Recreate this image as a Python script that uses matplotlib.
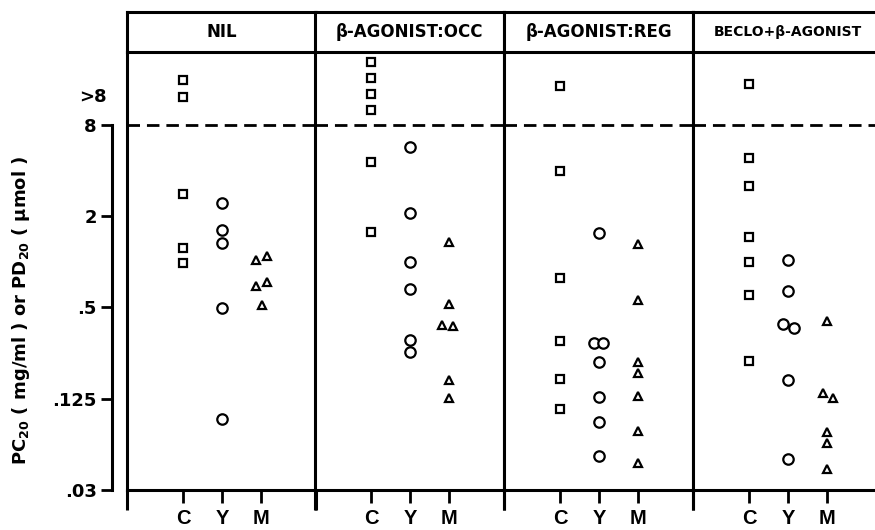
#!/usr/bin/env python3
"""PC20 / PD20 by treatment group and subject group (C, Y, M)."""

import matplotlib

matplotlib.use("Agg")
import matplotlib.pyplot as plt
from matplotlib.ticker import FixedLocator, NullLocator

W, H = 875, 530

PANELS = ["NIL", "β-AGONIST:OCC", "β-AGONIST:REG", "BECLO+β-AGONIST"]
GROUPS = ["C", "Y", "M"]
Y_TICKS = [1 / 32, 1 / 8, 0.5, 2, 8]
Y_LABELS = [".03", ".125", ".5", "2", "8"]

# readings; values above 8 sit in the ">8" band
NIL_C = [15.8, 12.2, 2.81, 1.23, 0.98]
NIL_Y = [2.44, 1.62, 1.34, 0.495, 0.0915]
NIL_M = [1.03, 1.09, 0.74, 0.69, 0.52]

OCC_C = [20.9, 16.4, 12.75, 10.05, 4.54, 1.58]
OCC_Y = [5.75, 2.09, 0.996, 0.66, 0.306, 0.256]
OCC_M = [1.36, 0.527, 0.384, 0.38, 0.167, 0.127]

REG_C = [14.5, 3.98, 0.787, 0.302, 0.169, 0.107]
REG_Y = [1.55, 0.291, 0.291, 0.22, 0.129, 0.0884, 0.052]
REG_M = [1.31, 0.562, 0.22, 0.184, 0.131, 0.077, 0.0474]

BEC_C = [14.8, 4.87, 3.18, 1.45, 0.996, 0.606, 0.222]
BEC_Y = [1.03, 0.643, 0.39, 0.365, 0.167, 0.050]
BEC_M = [0.41, 0.136, 0.126, 0.075, 0.0637, 0.043]

DATA = [
    [NIL_C, NIL_Y, NIL_M],
    [OCC_C, OCC_Y, OCC_M],
    [REG_C, REG_Y, REG_M],
    [BEC_C, BEC_Y, BEC_M],
]

# side-by-side offsets (px) for overlapping points
JITTER = {
    (0, 2): [-5, 6, 6, -5, 1],
    (1, 2): [0, 0, -7, 4, 0, 0],
    (2, 1): [0, -5, 4, 0, 0, 0, 0],
    (3, 1): [0, 0, -5, 6, 0, 0],
    (3, 2): [0, -4, 6, 0, 0, 0],
}

GROUP_X = [56, 95, 134]
PANEL_W = 189
PANEL_LEFT = [127, 315, 504, 693]
MARKERS = [("s", 5.5), ("o", 7.5), ("^", 6)]

BOLD = dict(family="DejaVu Sans", fontweight="bold")


def frac(x0, y0, w, h):
    return [x0 / W, 1 - (y0 + h) / H, w / W, h / H]


plt.rcParams["mathtext.fontset"] = "custom"
plt.rcParams["mathtext.rm"] = "DejaVu Sans:bold"
plt.rcParams["mathtext.bf"] = "DejaVu Sans:bold"

fig = plt.figure(figsize=(W / 100, H / 100), dpi=100)

y_lo = 1 / 32
y_hi = 8 * 2 ** (73 / 45.65)

for i, name in enumerate(PANELS):
    left = PANEL_LEFT[i]

    ax = fig.add_axes(frac(left, 52, PANEL_W, 438))
    ax.set_yscale("log", base=2)
    ax.set_ylim(y_lo, y_hi)
    ax.set_xlim(0, PANEL_W)
    ax.yaxis.set_major_locator(NullLocator())
    ax.yaxis.set_minor_locator(NullLocator())
    ax.spines["top"].set_visible(False)
    for side in ("left", "right", "bottom"):
        ax.spines[side].set_linewidth(2.2)

    ax.set_xticks(GROUP_X)
    ax.set_xticklabels(GROUPS, family="Liberation Sans", fontweight="bold",
                       fontsize=14.5)
    ax.tick_params(axis="x", which="major", direction="out", length=9,
                   width=2, pad=5)
    ax.xaxis.set_minor_locator(FixedLocator([0, PANEL_W]))
    ax.tick_params(axis="x", which="minor", direction="out", length=14.5, width=2.2)

    ax.axhline(8, color="black", lw=2, linestyle=(0, (4.5, 2.5)), zorder=1)

    for g, vals in enumerate(DATA[i]):
        dx = JITTER.get((i, g), [0] * len(vals))
        xs = [GROUP_X[g] + d for d in dx]
        m, ms = MARKERS[g]
        ax.plot(xs, vals, linestyle="none", marker=m, markersize=ms,
                markerfacecolor="white", markeredgecolor="black",
                markeredgewidth=1.6, clip_on=False, zorder=3)

    hax = fig.add_axes(frac(left, 12, PANEL_W, 40))
    hax.set_xticks([])
    hax.set_yticks([])
    for side in hax.spines.values():
        side.set_linewidth(2.2)
    size = 10 if i == 3 else 12
    hax.text(0.5, 0.5, name, ha="center", va="center", fontsize=size,
             transform=hax.transAxes, **BOLD)

# stand-alone y axis to the left of the panels
yax = fig.add_axes(frac(112, 52, 1, 438))
yax.set_facecolor("none")
yax.set_yscale("log", base=2)
yax.set_ylim(y_lo, y_hi)
for side in ("top", "right", "bottom"):
    yax.spines[side].set_visible(False)
yax.spines["left"].set_bounds(y_lo, 8)
yax.spines["left"].set_linewidth(2.2)
yax.set_xticks([])
yax.yaxis.set_major_locator(FixedLocator(Y_TICKS))
yax.yaxis.set_minor_locator(NullLocator())
yax.set_yticklabels(Y_LABELS, fontsize=13, **BOLD)
yax.tick_params(axis="y", direction="out", length=8, width=2, pad=3)

fig.text(107 / W, 1 - 97 / H, ">8", ha="right", va="center", fontsize=13, **BOLD)

fig.text(21 / W, 1 - 310 / H, r"PC$_{20}$ ( mg/ml ) or PD$_{20}$ ( μmol )",
         rotation=90, ha="center", va="center", fontsize=13, **BOLD)

fig.savefig("out.png", dpi=100)
